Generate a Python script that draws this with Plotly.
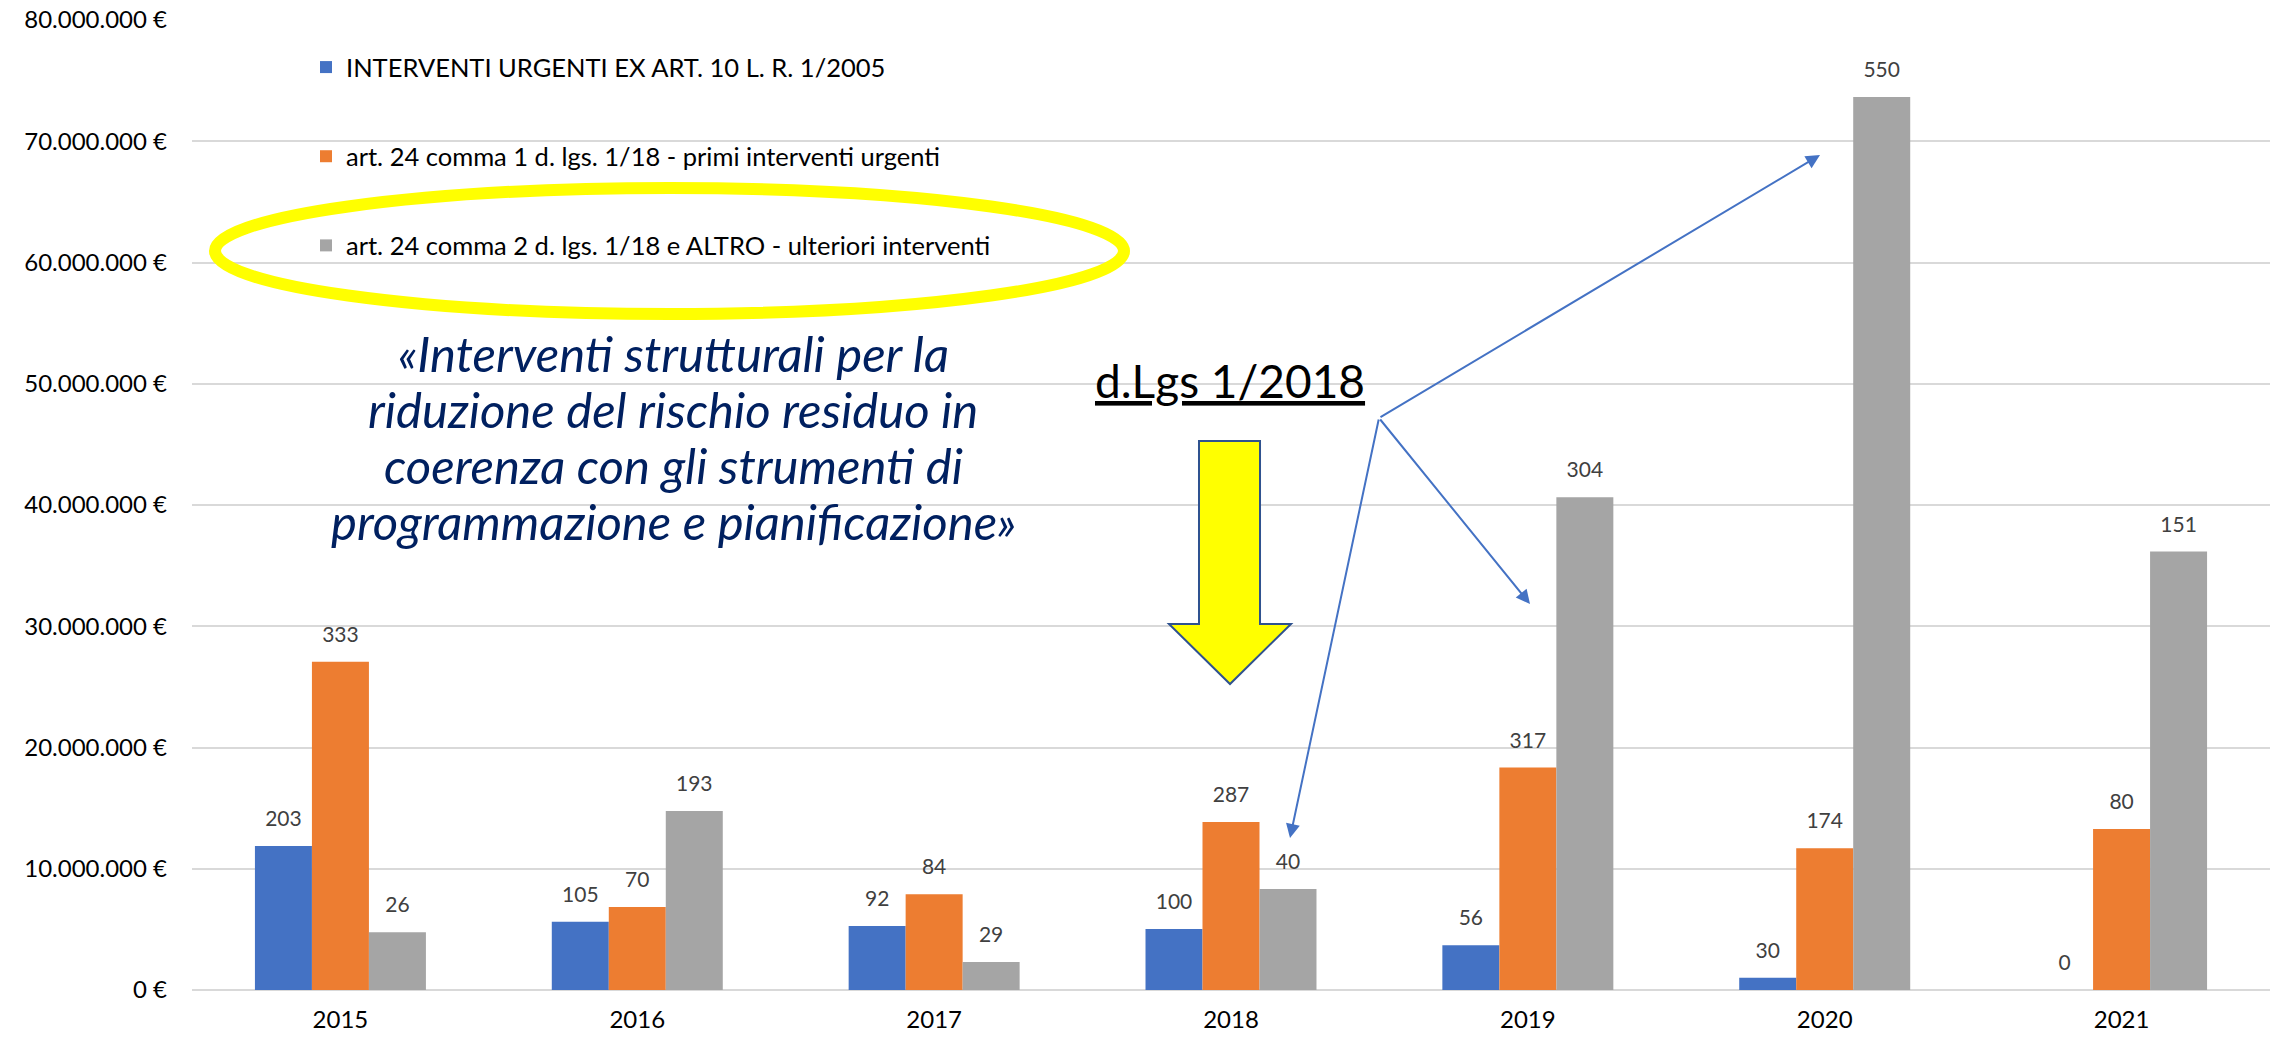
import plotly.graph_objects as go

# ---------------- data ----------------
years = ["2015", "2016", "2017", "2018", "2019", "2020", "2021"]
series_names = [
    "INTERVENTI URGENTI EX ART. 10 L. R. 1/2005",
    "art. 24 comma 1 d. lgs. 1/18 - primi interventi urgenti",
    "art. 24 comma 2 d. lgs. 1/18 e ALTRO - ulteriori interventi",
]
urgenti_eur = [11.88e6, 5.63e6, 5.28e6, 5.03e6, 3.69e6, 1.02e6, 0]
comma1_eur = [27.08e6, 6.85e6, 7.89e6, 13.86e6, 18.35e6, 11.69e6, 13.27e6]
comma2_eur = [4.76e6, 14.76e6, 2.31e6, 8.33e6, 40.63e6, 73.65e6, 36.16e6]
urgenti_n = [203, 105, 92, 100, 56, 30, 0]
comma1_n = [333, 70, 84, 287, 317, 174, 80]
comma2_n = [26, 193, 29, 40, 304, 550, 151]
colors = ["#4472C4", "#ED7D31", "#A5A5A5"]

quote_lines = [
    "«Interventi strutturali per la",
    "riduzione del rischio residuo in",
    "coerenza con gli strumenti di",
    "programmazione e pianificazione»",
]
law_label = "d.Lgs 1/2018"

# ---------------- layout geometry ----------------
W, H = 2277, 1038
ML, MR, MT, MB = 192, 7, 20, 48
PW, PH = W - ML - MR, H - MT - MB
FONT = "Lato, 'Open Sans', sans-serif"


def px(x):
    return (x - ML) / PW


def py(y):
    return (H - MB - y) / PH


fig = go.Figure()
all_vals = [urgenti_eur, comma1_eur, comma2_eur]
all_counts = [urgenti_n, comma1_n, comma2_n]
for k, (name, vals, col) in enumerate(zip(series_names, all_vals, colors)):
    fig.add_trace(go.Bar(
        x=years, y=vals, name=name, marker=dict(color=col, line=dict(width=0)),
        legendgroup=name, offsetgroup=str(k), alignmentgroup="a",
    ))
# data labels (counts) placed above each bar
for k, (name, vals, counts) in enumerate(zip(series_names, all_vals, all_counts)):
    fig.add_trace(go.Scatter(
        x=years, y=vals, mode="markers+text", text=[str(c) for c in counts],
        textposition="top center", marker=dict(size=22, color="rgba(0,0,0,0)"),
        textfont=dict(family=FONT, size=21, color="#404040"),
        showlegend=False, hoverinfo="skip", cliponaxis=False,
        offsetgroup=str(k), alignmentgroup="a", legendgroup=name,
    ))

# yellow ellipse around third legend entry
fig.add_shape(type="circle", xref="paper", yref="paper",
              x0=px(215), x1=px(1124), y0=py(314), y1=py(188),
              line=dict(color="#FFFF00", width=12), fillcolor="rgba(0,0,0,0)")

# yellow down arrow
pts = [(1199, 441), (1260, 441), (1260, 624), (1291, 624), (1230, 684), (1169, 624), (1199, 624)]
path = "M " + " L ".join(f"{px(a):.5f},{py(b):.5f}" for a, b in pts) + " Z"
fig.add_shape(type="path", xref="paper", yref="paper", path=path,
              fillcolor="#FFFF00", line=dict(color="#2F528F", width=2))

# italic quote
for i, line in enumerate(quote_lines):
    fig.add_annotation(xref="paper", yref="paper", x=px(673), y=py(353 + i * 56),
                       text=f"<i>{line}</i>", showarrow=False, xanchor="center", yanchor="middle",
                       font=dict(family=FONT, size=49, color="#002060"))

# law label
fig.add_annotation(xref="paper", yref="paper", x=px(1230), y=py(380),
                   text=f"<u>{law_label}</u>", showarrow=False, xanchor="center", yanchor="middle",
                   font=dict(family=FONT, size=46, color="#000000"))

# blue arrows from hub
hub = (1379, 418)
for tip in [(1820, 155), (1530, 604), (1290, 838)]:
    fig.add_annotation(xref="paper", yref="paper", x=px(tip[0]), y=py(tip[1]),
                       ax=hub[0] - tip[0], ay=hub[1] - tip[1], text="", showarrow=True,
                       arrowhead=2, arrowsize=1.4, arrowwidth=2, arrowcolor="#4472C4", standoff=0)

fig.update_layout(
    width=W, height=H, autosize=False,
    margin=dict(l=ML, r=MR, t=MT, b=MB, pad=0, autoexpand=False),
    paper_bgcolor="white", plot_bgcolor="white",
    barmode="group", bargap=0.424, bargroupgap=0,
    scattermode="group", scattergap=0.424,
    separators=",.",
    font=dict(family=FONT, size=24, color="#000000"),
    showlegend=True,
    legend=dict(x=px(306), y=py(44), xanchor="left", yanchor="top",
                orientation="v", tracegroupgap=53, bgcolor="rgba(0,0,0,0)",
                font=dict(family=FONT, size=25.5, color="#000000"), traceorder="grouped"),
    xaxis=dict(showgrid=False, showline=False, ticks="", tickfont=dict(size=24, color="#000000"),
               ticklabelstandoff=13, automargin=False),
    yaxis=dict(range=[0, 80e6], dtick=10e6, tickformat=",.0f", ticksuffix=" €",
               showgrid=True, gridcolor="#D9D9D9", gridwidth=1.5,
               zeroline=True, zerolinecolor="#D9D9D9", zerolinewidth=1.5,
               showline=False, ticks="", tickfont=dict(size=24, color="#000000"),
               ticklabelstandoff=24, automargin=False),
)

fig.write_html("out.html", config={"displayModeBar": False},
               post_script="document.body.style.margin='0';")
